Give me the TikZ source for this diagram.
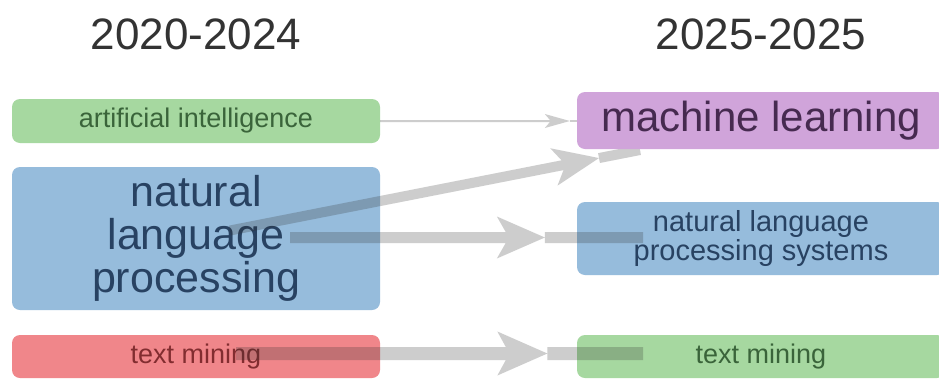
\documentclass[tikz,border=0pt]{standalone}
\usepackage{fontspec}
\setmainfont{Liberation Sans}
\usetikzlibrary{calc}
\definecolor{gfill}{RGB}{166,216,160}
\definecolor{gtext}{RGB}{58,100,58}
\definecolor{bfill}{RGB}{150,188,220}
\definecolor{btext}{RGB}{40,66,98}
\definecolor{pfill}{RGB}{208,164,218}
\definecolor{ptext}{RGB}{70,42,80}
\definecolor{rfill}{RGB}{240,134,138}
\definecolor{rtext}{RGB}{130,45,48}
\definecolor{ttext}{RGB}{51,51,51}
\definecolor{edgegray}{RGB}{46,46,46}
% #1 prefix, #2 start, #3 tip, #4 half shaft width, #5 head length, #6 half head width, #7 inset (pt)
\newcommand\fatarrow[7]{%
  \pgfmathsetmacro\fajd{#5-#7+#7*#4/#6}%
  \coordinate (#1B) at ($(#3)!#5pt!(#2)$);%
  \coordinate (#1J) at ($(#3)!\fajd pt!(#2)$);%
  \fill[conn] ($(#2)!#4pt!90:(#3)$) -- ($(#1J)!#4pt!90:(#3)$) --
    ($(#1B)!#6pt!90:(#3)$) -- (#3) -- ($(#1B)!#6pt!-90:(#3)$) --
    ($(#1J)!#4pt!-90:(#3)$) -- ($(#2)!#4pt!-90:(#3)$) -- cycle;%
}
\begin{document}
\begin{tikzpicture}[x=1pt,y=-1pt,
  title/.style={inner sep=0pt, text=ttext, font=\fontsize{44}{44}\selectfont},
  box/.style={rounded corners=8pt, inner sep=0pt, align=center, minimum width=368pt},
  conn/.style={fill=edgegray, opacity=0.24},
  tail/.style={draw=edgegray, opacity=0.24, line width=#1}
]
\useasboundingbox (0,0) rectangle (939,378);
\clip (0,0) rectangle (939,378);
\fill[white] (0,0) rectangle (939,378);

% titles
\node[title] (h1) at (196,34) {2020-2024};
\node[title] (h2) at (761,34) {2025-2025};

% left column
\node[box, fill=gfill, text=gtext, minimum height=44pt,
      font=\fontsize{27}{27}\selectfont] (ai) at (196,121) {artificial intelligence};
\node[box, fill=bfill, text=btext, minimum height=143pt,
      font=\fontsize{43}{43}\selectfont] (nlp) at (196,238.5) {natural\\language\\processing};
\node[box, fill=rfill, text=rtext, minimum height=43pt,
      font=\fontsize{27}{27}\selectfont] (tm1) at (196,356.5) {text mining};

% right column (machine learning is drawn above the edges)
\node[box, fill=bfill, text=btext, minimum height=73pt,
      font=\fontsize{29}{27}\selectfont] (nlps) at (761,238.5) {natural language\\processing systems};
\node[box, fill=gfill, text=gtext, minimum height=43pt,
      font=\fontsize{27}{27}\selectfont] (tm2) at (761,356.5) {text mining};

% edge coordinates
\coordinate (t1) at ([xshift=-7pt]ai.east -| nlps.west);
\coordinate (e1) at (ai.east -| nlps.west);
\coordinate (s2) at ([xshift=34pt,yshift=8pt]nlp.center);
\coordinate (e2) at ([xshift=-121pt,yshift=-29pt]nlps.center |- ai.center);
\coordinate (t2) at ($(s2)!0.9!(e2)$);
\coordinate (s3) at ([xshift=94pt,yshift=1pt]nlp.center);
\coordinate (e3) at ([xshift=-118pt,yshift=1pt]nlps.center);
\coordinate (t3) at ($(s3)!0.722!(e3)$);
\coordinate (s4) at ([xshift=40pt,yshift=3pt]tm1.center);
\coordinate (e4) at ([xshift=-118pt,yshift=3pt]tm2.center);
\coordinate (t4) at ($(s4)!0.765!(e4)$);

% edges
\fatarrow{a1}{ai.east}{t1}{1}{25}{7}{6}
\draw[tail=2pt] (t1) -- (e1);
\fatarrow{a2}{s2}{t2}{5}{46}{19}{12}
\draw[tail=10pt] (t2) -- (e2);
\fatarrow{a3}{s3}{t3}{5.5}{48}{21}{12}
\draw[tail=11pt] (t3) -- (e3);
\fatarrow{a4}{s4}{t4}{6.5}{50}{22}{12}
\draw[tail=13pt] (t4) -- (e4);

% machine learning box on top
\node[box, fill=pfill, text=ptext, minimum height=57pt,
      font=\fontsize{42}{42}\selectfont] (ml) at (761,120.5) {machine learning};
\end{tikzpicture}
\end{document}
